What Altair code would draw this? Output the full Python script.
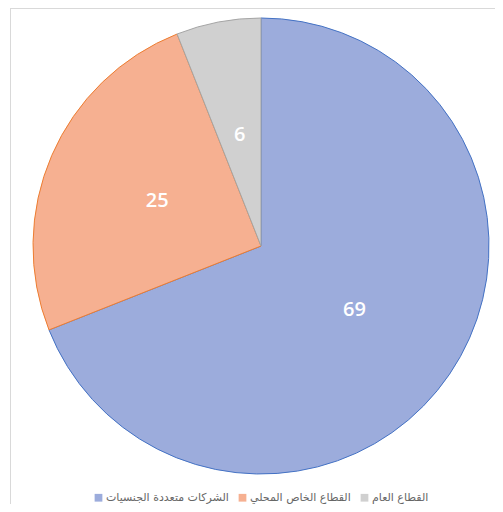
import altair as alt
import pandas as pd

categories = ["الشركات متعددة الجنسيات", "القطاع الخاص المحلي", "القطاع العام"]
values = [69, 25, 6]
fills = ["#9cacdc", "#f6b091", "#d0d0d0"]
strokes = ["#4472c4", "#ed7d31", "#a5a5a5"]

df = pd.DataFrame({"cat": categories, "val": values, "order": [0, 1, 2]})

W, H = 487, 496
cx, cy = 253, 238
R = 228

base = alt.Chart(df).encode(
    theta=alt.Theta("val:Q", stack=True),
    order=alt.Order("order:Q"),
)

arcs = base.mark_arc(radius=R, strokeWidth=1).encode(
    x=alt.value(cx),
    y=alt.value(cy),
    color=alt.Color(
        "cat:N",
        scale=alt.Scale(domain=categories, range=fills),
        sort=categories,
        legend=alt.Legend(
            title=None,
            orient="none",
            legendX=85,
            legendY=484,
            direction="horizontal",
            symbolType="square",
            symbolSize=60,
            symbolStrokeWidth=0,
            labelFont="DejaVu Sans",
            labelFontSize=11,
            labelColor="#666666",
            columnPadding=8,
            labelOffset=2,
        ),
    ),
    stroke=alt.Stroke("cat:N", scale=alt.Scale(domain=categories, range=strokes), legend=None),
)

labels = base.mark_text(
    radius=113, fontSize=20, font="Open Sans", fontWeight=600, color="white"
).encode(
    x=alt.value(cx),
    y=alt.value(cy),
    text=alt.Text("val:Q"),
)

border_left = alt.Chart(df).mark_rule(color="#d9d9d9", strokeWidth=1).encode(
    x=alt.value(2.5), y=alt.value(0), y2=alt.value(H)
)
border_top = alt.Chart(df).mark_rule(color="#d9d9d9", strokeWidth=1).encode(
    x=alt.value(2.5), x2=alt.value(W), y=alt.value(0.5)
)

chart = alt.layer(border_left, border_top, arcs, labels).properties(
    width=W, height=H, padding=0, autosize=alt.AutoSizeParams(type="none")
).configure_view(stroke=None)

chart.save("out.html", embed_options={"renderer": "svg", "actions": False})
